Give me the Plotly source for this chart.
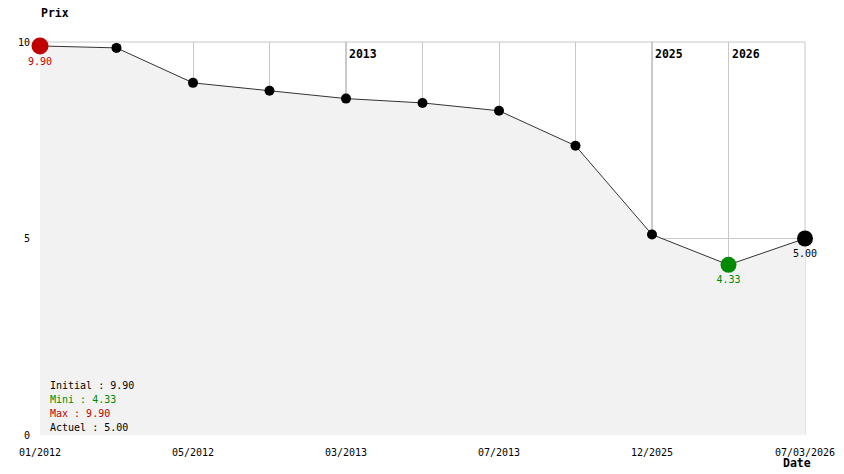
import plotly.graph_objects as go

# Historique du prix (points équidistants)
idx = list(range(11))
prix = [9.90, 9.85, 8.96, 8.76, 8.56, 8.45, 8.25, 7.36, 5.10, 4.33, 5.00]
tick_idx = [0, 2, 4, 6, 8, 10]
tick_labels = ["01/2012", "05/2012", "03/2013", "07/2013", "12/2025", "07/03/2026"]
annees_idx = [4, 8, 9]
annees = ["2013", "2025", "2026"]

FONT = "DejaVu Sans Mono, monospace"
RED = "#c00000"
GREEN = "#008a00"
GRID = "#c8c8c8"

i_max = prix.index(max(prix))
i_min = prix.index(min(prix))
i_last = len(prix) - 1

fig = go.Figure()

# courbe + surface grise
fig.add_trace(go.Scatter(
    x=idx, y=prix, mode="lines+markers", fill="tozeroy",
    fillcolor="#f2f2f2", line=dict(color="#333333", width=1),
    marker=dict(color="black", size=10), hoverinfo="skip", cliponaxis=False,
))

# points remarquables
for i, col, size in [(i_max, RED, 17), (i_min, GREEN, 16), (i_last, "black", 16)]:
    fig.add_trace(go.Scatter(
        x=[idx[i]], y=[prix[i]], mode="markers+text",
        marker=dict(color=col, size=size),
        text=[f"{prix[i]:.2f}"], textposition="bottom center",
        textfont=dict(color=col, size=10, family=FONT), hoverinfo="skip",
        cliponaxis=False,
    ))

# bords haut et droit du cadre (plotly masque les grilles en bordure)
fig.add_shape(type="line", x0=0, x1=1, y0=1, y1=1, xref="paper", yref="paper",
              line=dict(color=GRID, width=1), layer="below")
fig.add_shape(type="line", x0=1, x1=1, y0=0, y1=1, xref="paper", yref="paper",
              line=dict(color=GRID, width=1), layer="below")

# séparateurs d'années
for i, lab in zip(annees_idx, annees):
    fig.add_shape(type="line", x0=i, x1=i, y0=0, y1=10, xref="x", yref="y",
                  line=dict(color="#999999", width=1), layer="below")
    fig.add_annotation(x=i, y=10, text=f"<b>{lab}</b>", showarrow=False,
                       xanchor="left", yanchor="top", xshift=1, yshift=-3,
                       font=dict(size=11.5, family=FONT, color="black"))

# résumé en bas à gauche
resume = [
    (f"Initial : {prix[0]:.2f}", "black"),
    (f"Mini : {min(prix):.2f}", GREEN),
    (f"Max : {max(prix):.2f}", RED),
    (f"Actuel : {prix[-1]:.2f}", "black"),
]
for k, (txt, col) in enumerate(resume):
    fig.add_annotation(x=0, y=1.27 - k * 0.36, xref="x", yref="y", text=txt,
                       showarrow=False, xanchor="left", xshift=8,
                       font=dict(size=10, family=FONT, color=col))

fig.add_annotation(x=0, y=1, xref="paper", yref="paper", text="<b>Prix</b>",
                   showarrow=False, xanchor="left", yanchor="middle",
                   xshift=-1, yshift=29, font=dict(size=11.5, family=FONT))
fig.add_annotation(x=1, y=0, xref="paper", yref="paper", text="<b>Date</b>",
                   showarrow=False, xanchor="center", yanchor="middle",
                   xshift=-8, yshift=-28, font=dict(size=11.5, family=FONT))

# la page ajoute 8 px de marge au body : on compense
fig.update_layout(
    width=836, height=466,
    margin=dict(l=32, r=39, t=34, b=39, autoexpand=False),
    paper_bgcolor="white", plot_bgcolor="white",
    showlegend=False,
    font=dict(family=FONT, size=10, color="black"),
    xaxis=dict(range=[0, 10], tickvals=tick_idx, ticktext=tick_labels,
               showgrid=True, gridcolor=GRID, zeroline=False,
               minor=dict(dtick=1, tick0=0, showgrid=True, gridcolor=GRID),
               ticks="", ticklabelstandoff=10, automargin=False,
               fixedrange=True),
    yaxis=dict(range=[0, 10], tickvals=[0, 5, 10], showgrid=True,
               gridcolor=GRID, zeroline=False, ticks="", ticklabelstandoff=9,
               automargin=False, fixedrange=True),
)

fig.write_html("out.html")
